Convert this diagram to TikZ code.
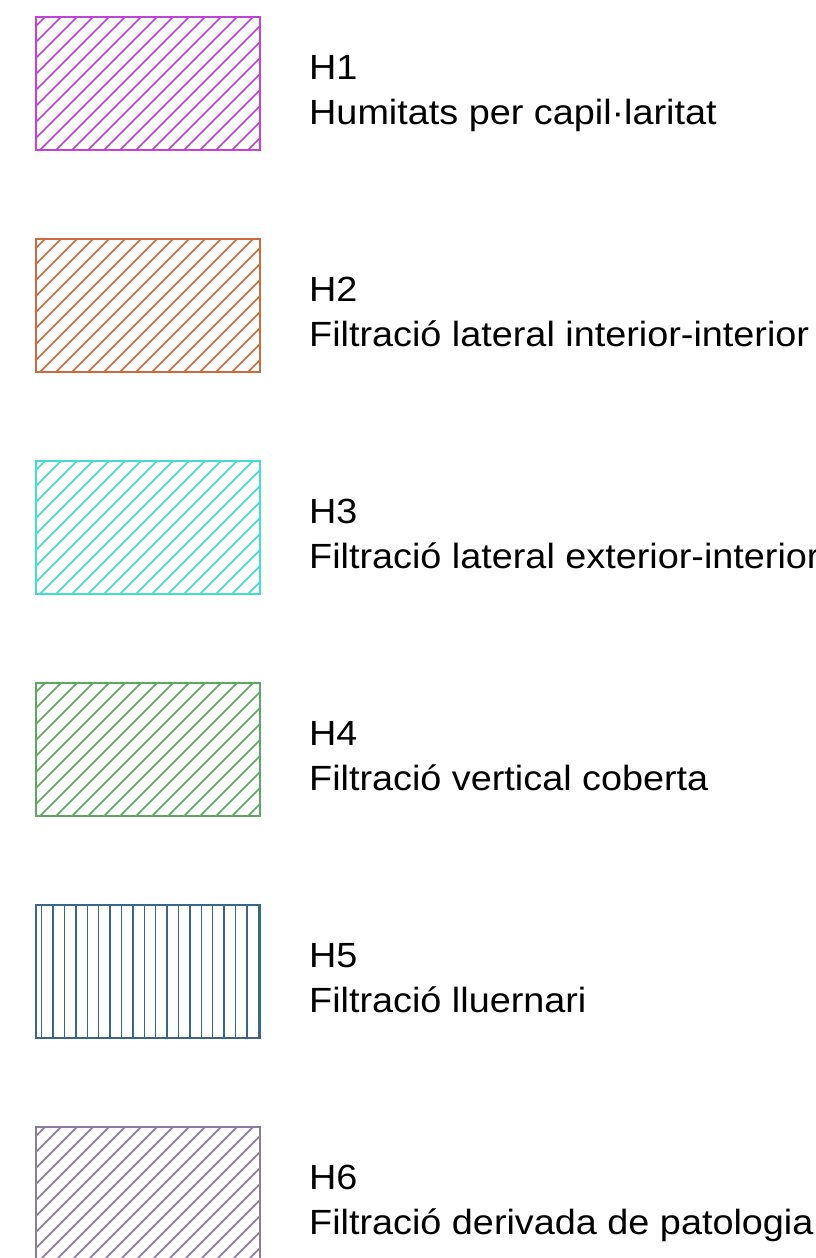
\documentclass[tikz,border=0pt]{standalone}
\usepackage{fontspec}
\setmainfont{Liberation Sans}[FakeStretch=1.08]
\usetikzlibrary{positioning}
\definecolor{hcapil}{RGB}{196,64,220}
\definecolor{hintint}{RGB}{208,106,62}
\definecolor{hextint}{RGB}{64,222,206}
\definecolor{hcoberta}{RGB}{92,168,96}
\definecolor{hlluern}{RGB}{56,104,134}
\definecolor{hpatol}{RGB}{142,122,160}

\begin{document}
\begin{tikzpicture}[x=1pt, y=-1pt,
			legbox/.style={draw=#1, line width=1.6pt, minimum width=224pt, minimum height=133pt, inner sep=0pt, outer sep=0pt, anchor=north west},
			hatch/.style={draw=#1, line width=1.5pt},
			legtext/.style={font=\fontsize{35}{42}\selectfont, inner sep=0pt, anchor=base west}]
			% Bildbereich
			\useasboundingbox (0,0) rectangle (815,1258);
			\clip (0,0) rectangle (815,1258);
			% Legende
			\foreach \i/\col/\kind/\txt in {1/hcapil/d/Humitats per capil·laritat,
				2/hintint/d/Filtració lateral interior-interior,
				3/hextint/d/Filtració lateral exterior-interior,
				4/hcoberta/d/Filtració vertical coberta,
				5/hlluern/v/Filtració lluernari,
				6/hpatol/d/Filtració derivada de patologia} {
				\pgfmathsetmacro{\ytop}{17+222*(\i-1)}
				% Schraffur
				\begin{scope}
					\clip (36,\ytop) rectangle (260,\ytop+133);
					\if\kind d
						\foreach \k in {-1,0,...,22} {
							\pgfmathsetmacro{\xa}{45+16*\k}
							\draw[hatch=\col] (\xa+10,\ytop-10) -- (\xa-150,\ytop+150);
						}
					\else
						\foreach \k in {0,1,...,19}
							\draw[hatch=\col] (41.7+11.4*\k,\ytop) -- (41.7+11.4*\k,\ytop+133);
					\fi
				\end{scope}
				\node[legbox=\col] (box\i) at (36,\ytop) {};
				% Beschriftung
				\node[legtext, right=49pt of box\i.north east, anchor=base west, yshift=-62pt] (code\i) {H\i};
				\node[legtext, below=45pt of code\i.base west, anchor=base west] (desc\i) {\txt};
			}
		\end{tikzpicture}
\end{document}
